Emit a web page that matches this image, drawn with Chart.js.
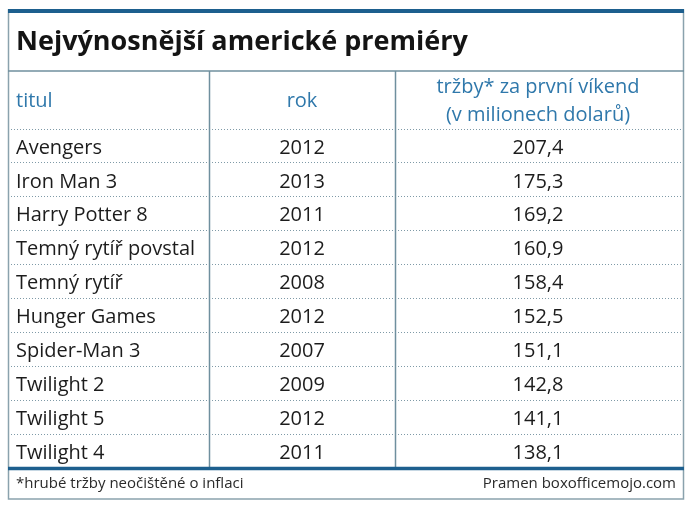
<!DOCTYPE html>
<html>
<head>
<meta charset="utf-8">
<script src="https://cdn.jsdelivr.net/npm/chart.js@4"></script>
<style>
html,body{margin:0;padding:0;background:#fff}
#wrap{width:688px;height:508px;position:relative}
</style>
</head>
<body>
<div id="wrap"><canvas id="c"></canvas></div>
<script>
// table data
const titles = ['Avengers','Iron Man 3','Harry Potter 8','Temný rytíř povstal','Temný rytíř','Hunger Games','Spider-Man 3','Twilight 2','Twilight 5','Twilight 4'];
const years = [2012,2013,2011,2012,2008,2012,2007,2009,2012,2011];
const revenue = [207.4,175.3,169.2,160.9,158.4,152.5,151.1,142.8,141.1,138.1];
const headers = ['titul','rok',['tržby* za první víkend','(v milionech dolarů)']];
const chartTitle = 'Nejvýnosnější americké premiéry';
const footnote = '*hrubé tržby neočištěné o inflaci';
const source = 'Pramen boxofficemojo.com';

// layout of columns on the x scale (units = px inside the plot area)
const COL_DIVS = [201, 387];
const COL_YEAR = 294;
const COL_REV = 530;

const FONT = '"Open Sans", sans-serif';
const BLUE = '#1d5f8e';
const HEAD = '#2f78ab';
const LINE = '#6f8f9e';
const TEXT = '#1c1c1c';
const TXT_SHIFT = 2;

const fmt = v => v.toFixed(1).replace('.', ',');

const tablePlugin = {
  id: 'tablePlugin',
  beforeDraw(chart){
    const ctx = chart.ctx;
    ctx.save();
    ctx.fillStyle = '#fff';
    ctx.fillRect(0,0,chart.width,chart.height);
    ctx.restore();
  },
  afterDatasetsDraw(chart){
    const ctx = chart.ctx;
    ctx.save();
    ctx.font = '20px ' + FONT;
    ctx.fillStyle = TEXT;
    ctx.textAlign = 'center';
    ctx.textBaseline = 'middle';
    chart.data.datasets.forEach((ds, di)=>{
      const meta = chart.getDatasetMeta(di);
      meta.data.forEach((pt, i)=>{
        ctx.fillText(ds.texts[i], pt.x, pt.y + TXT_SHIFT);
      });
    });
    ctx.restore();
  },
  afterDraw(chart){
    const ctx = chart.ctx;
    const xs = chart.scales.x;
    const area = chart.chartArea;
    const L = 8, R = 684;
    ctx.save();
    // outer frame
    ctx.strokeStyle = '#8aa2ad';
    ctx.lineWidth = 1.5;
    ctx.strokeRect(L + 0.5, 10, R - L - 1, 489);
    // top bar
    ctx.fillStyle = BLUE;
    ctx.fillRect(L, 9, R - L, 4);
    // title
    ctx.fillStyle = '#141414';
    ctx.font = 'bold 27px ' + FONT;
    ctx.textAlign = 'left';
    ctx.textBaseline = 'middle';
    ctx.fillText(chartTitle, 16, 42);
    // line under title
    ctx.strokeStyle = LINE;
    ctx.lineWidth = 1.5;
    ctx.beginPath(); ctx.moveTo(L, 71); ctx.lineTo(R, 71); ctx.stroke();
    // column dividers
    COL_DIVS.forEach(v=>{
      const x = Math.round(xs.getPixelForValue(v)) + 0.5;
      ctx.beginPath(); ctx.moveTo(x, 71); ctx.lineTo(x, area.bottom); ctx.stroke();
    });
    // header row
    ctx.fillStyle = HEAD;
    ctx.font = '20px ' + FONT;
    ctx.fillText(headers[0], 16, 101);
    ctx.textAlign = 'center';
    ctx.fillText(headers[1], xs.getPixelForValue(COL_YEAR), 101);
    ctx.fillText(headers[2][0], xs.getPixelForValue(COL_REV), 87);
    ctx.fillText(headers[2][1], xs.getPixelForValue(COL_REV), 115);
    // bottom bar
    ctx.strokeStyle = BLUE;
    ctx.lineWidth = 3.5;
    ctx.beginPath(); ctx.moveTo(L, area.bottom + 0.5); ctx.lineTo(R, area.bottom + 0.5); ctx.stroke();
    // footnote + source
    ctx.fillStyle = '#2a2a2a';
    ctx.font = '15px ' + FONT;
    ctx.textAlign = 'left';
    ctx.fillText(footnote, 16, 484);
    ctx.textAlign = 'right';
    ctx.fillText(source, 676, 484);
    ctx.restore();
  }
};

const ctx = document.getElementById('c').getContext('2d');
new Chart(ctx, {
  type: 'scatter',
  data: {
    datasets: [
      {
        label: 'rok',
        data: titles.map((t,i)=>({x: COL_YEAR, y: t})),
        texts: years.map(String),
        pointRadius: 0
      },
      {
        label: 'tržby',
        data: titles.map((t,i)=>({x: COL_REV, y: t})),
        texts: revenue.map(fmt),
        pointRadius: 0
      }
    ]
  },
  options: {
    responsive: true,
    maintainAspectRatio: false,
    animation: false,
    events: [],
    layout: { padding: { top: 129, bottom: 40, left: 8, right: 4 } },
    plugins: { legend: { display: false }, tooltip: { enabled: false } },
    scales: {
      x: { type: 'linear', min: 0, max: 676, display: false },
      y: {
        type: 'category',
        labels: titles,
        offset: true,
        grid: { offset: true, color: '#7f9aa7', lineWidth: 1, drawTicks: false },
        border: { display: false, dash: [1, 2] },
        ticks: { mirror: true, padding: 8, labelOffset: TXT_SHIFT, color: TEXT, font: { family: FONT, size: 20 } },
        afterFit: s => { s.width = 0; }
      }
    }
  },
  plugins: [tablePlugin]
});
</script>
</body>
</html>
